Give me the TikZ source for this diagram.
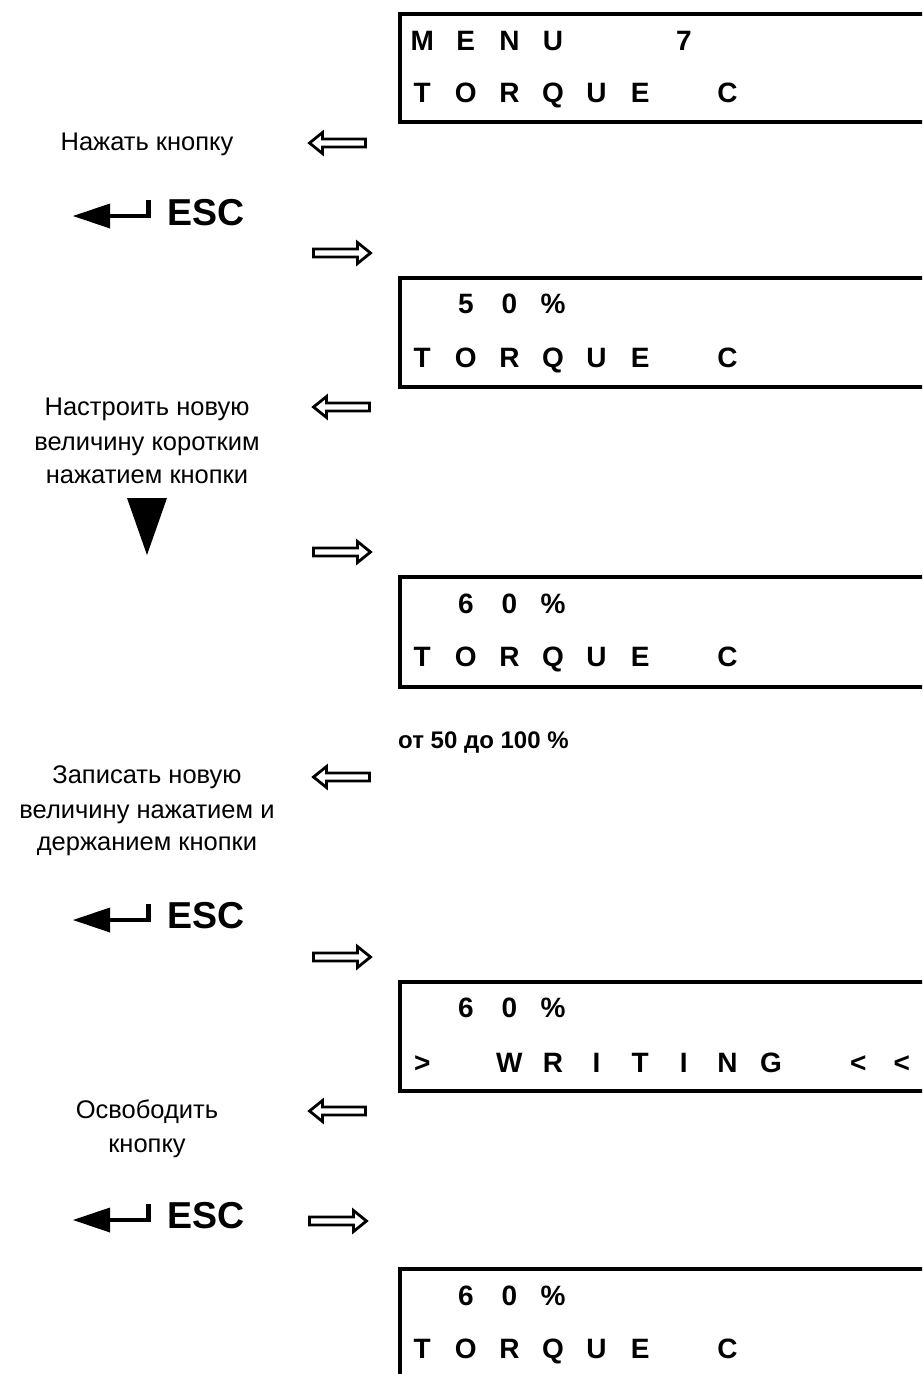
\documentclass[tikz,border=0pt]{standalone}
\usepackage{fontspec}
\setmainfont{Liberation Sans}
\newcommand\lc[1]{\makebox[43.6pt]{#1}}
\begin{document}
\begin{tikzpicture}[x=1pt,y=-1pt,
  lcd/.style={font=\fontsize{28}{28}\selectfont\bfseries, inner sep=0pt, anchor=base west},
  lbl/.style={font=\fontsize{25.5}{34}\selectfont, inner sep=0pt, anchor=base},
  esctext/.style={font=\fontsize{37.5}{40}\selectfont\bfseries, inner sep=0pt, anchor=base west},
  rng/.style={font=\fontsize{24}{28}\selectfont\bfseries, inner sep=0pt, anchor=base west},
  frame/.style={line width=4pt, line join=miter},
  blockarrow/.style={line width=2.8pt, line join=miter, fill=white},
  larr/.pic={\draw[blockarrow] (0,0) -- (13,-10.5) -- (13,-4) -- (56,-4) -- (56,4) -- (13,4) -- (13,10.5) -- cycle;},
  rarr/.pic={\draw[blockarrow] (57,0) -- (44,-10.5) -- (44,-4) -- (0,-4) -- (0,4) -- (44,4) -- (44,10.5) -- cycle;},
  enterkey/.pic={\fill (0,0) -- (37,-12.5) -- (37,12.5) -- cycle;
                 \draw[line width=4.5pt, line join=miter] (35,0) -- (75.5,0) -- (75.5,-16.5);},
]
\useasboundingbox (0,0) rectangle (922,1374);
\clip (0,0) rectangle (922,1374);

% ---------- LCD frames ----------
\draw[frame] (930,13.5) -- (400,13.5) -- (400,122) -- (930,122);
\draw[frame] (930,277.5) -- (400,277.5) -- (400,387) -- (930,387);
\draw[frame] (930,577) -- (400,577) -- (400,687) -- (930,687);
\draw[frame] (930,982) -- (400,982) -- (400,1091) -- (930,1091);
\draw[frame] (930,1269) -- (400,1269) -- (400,1390);

% ---------- LCD texts ----------
\node[lcd] (b1r1) at (400.2,50) {\lc{M}\lc{E}\lc{N}\lc{U}\lc{}\lc{}\lc{7}};
\node[lcd] (b1r2) at (400.2,102) {\lc{T}\lc{O}\lc{R}\lc{Q}\lc{U}\lc{E}\lc{}\lc{C}};
\node[lcd] (b2r1) at (400.2,313) {\lc{}\lc{5}\lc{0}\lc{\%}};
\node[lcd] (b2r2) at (400.2,367) {\lc{T}\lc{O}\lc{R}\lc{Q}\lc{U}\lc{E}\lc{}\lc{C}};
\node[lcd] (b3r1) at (400.2,613) {\lc{}\lc{6}\lc{0}\lc{\%}};
\node[lcd] (b3r2) at (400.2,666) {\lc{T}\lc{O}\lc{R}\lc{Q}\lc{U}\lc{E}\lc{}\lc{C}};
\node[lcd] (b4r1) at (400.2,1017) {\lc{}\lc{6}\lc{0}\lc{\%}};
\node[lcd] (b4r2) at (400.2,1072) {\lc{>}\lc{}\lc{W}\lc{R}\lc{I}\lc{T}\lc{I}\lc{N}\lc{G}\lc{}\lc{<}\lc{<}};
\node[lcd] (b5r1) at (400.2,1305) {\lc{}\lc{6}\lc{0}\lc{\%}};
\node[lcd] (b5r2) at (400.2,1358) {\lc{T}\lc{O}\lc{R}\lc{Q}\lc{U}\lc{E}\lc{}\lc{C}};

\node[rng] (range) at (398,748) {от 50 до 100 \%};

% ---------- block arrows ----------
\pic at (309.5,143) {larr};
\pic at (313.5,253) {rarr};
\pic at (313.5,407) {larr};
\pic at (313.5,552) {rarr};
\pic at (313.5,777) {larr};
\pic at (313.5,957) {rarr};
\pic at (309.5,1111) {larr};
\pic at (309.5,1221) {rarr};

% ---------- left labels ----------
\node[lbl] (t1) at (147,150) {Нажать кнопку};
\node[lbl] (t2a) at (147,415) {Настроить новую};
\node[lbl] (t2b) at (147,450) {величину коротким};
\node[lbl] (t2c) at (147,483) {нажатием кнопки};
\node[lbl] (t3a) at (147,783) {Записать новую};
\node[lbl] (t3b) at (147,818) {величину нажатием и};
\node[lbl] (t3c) at (147,850) {держанием кнопки};
\node[lbl] (t4a) at (147,1118) {Освободить};
\node[lbl] (t4b) at (147,1152) {кнопку};

% ---------- ESC keys ----------
\pic at (73,216) {enterkey};
\node[esctext] (esc1) at (167,225) {ESC};
\pic at (73,920) {enterkey};
\node[esctext] (esc2) at (167,928.5) {ESC};
\pic at (73,1220) {enterkey};
\node[esctext] (esc3) at (167,1228) {ESC};

% ---------- down key ----------
\fill (127,498) -- (167,498) -- (147,555) -- cycle;
\end{tikzpicture}
\end{document}
